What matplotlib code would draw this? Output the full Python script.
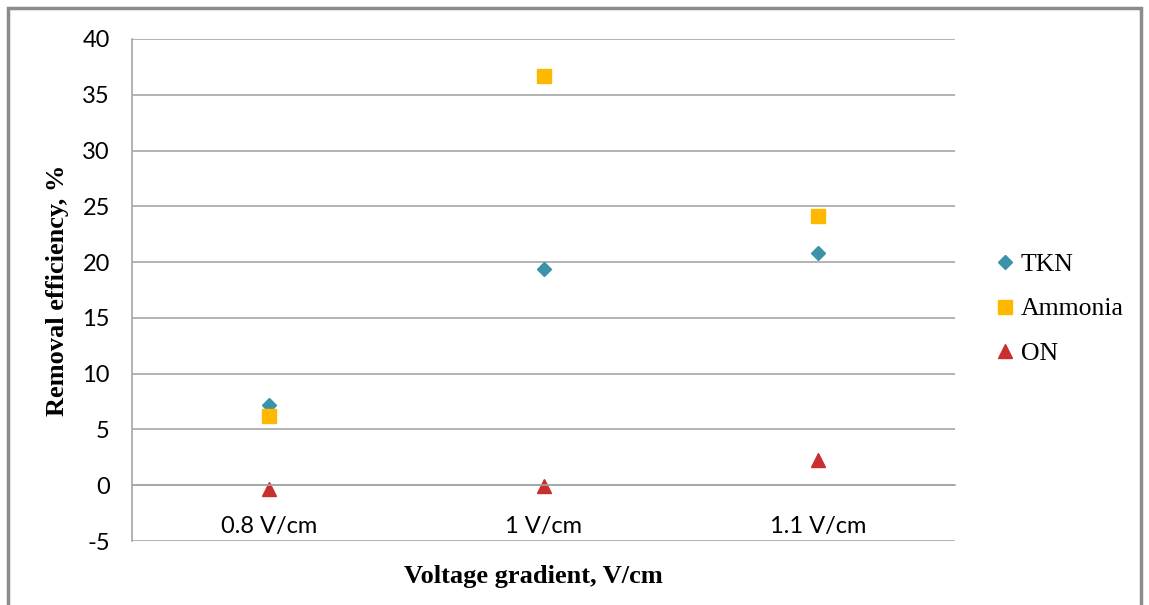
import matplotlib.pyplot as plt
from matplotlib.patches import Rectangle

plt.rcParams["axes.unicode_minus"] = False

gradients = ["0.8 V/cm", "1 V/cm", "1.1 V/cm"]
tkn = [7.2, 19.4, 20.8]
ammonia = [6.2, 36.7, 24.1]
organic_n = [-0.35, -0.1, 2.3]

fig = plt.figure(figsize=(11.49, 6.05), dpi=100)
ax = fig.add_axes([132 / 1149, 1 - 541 / 605, (955 - 132) / 1149, (541 - 39) / 605])

# outer chart border
fig.patches.append(Rectangle((8 / 1149, -0.05), (1141 - 8) / 1149, 1.05 - 8 / 605,
                             transform=fig.transFigure, fill=False,
                             edgecolor="#8c8c8c", linewidth=2.5))

x = list(range(len(gradients)))
ax.plot(x, tkn, linestyle="none", marker="D", markersize=7, color="#3a93aa", label="TKN")
ax.plot(x, ammonia, linestyle="none", marker="s", markersize=10.5, color="#ffb800", label="Ammonia")
ax.plot(x, organic_n, linestyle="none", marker="^", markersize=10, color="#c8302f", label="ON")

ax.set_xlim(-0.5, 2.5)
ax.set_ylim(-5, 40)
ax.set_yticks(range(-5, 41, 5))
ax.set_xticks(x)
ax.set_xticklabels(gradients)
ax.yaxis.grid(True, color="#a6a6a6", linewidth=1.2)
ax.set_axisbelow(True)

for side in ["top", "right"]:
    ax.spines[side].set_visible(False)
ax.spines["left"].set_color("#a6a6a6")
ax.spines["left"].set_linewidth(1.2)
ax.spines["bottom"].set_position(("data", 0))
ax.spines["bottom"].set_color("#a6a6a6")
ax.spines["bottom"].set_linewidth(1.2)
ax.tick_params(axis="both", length=0, labelsize=17)
ax.tick_params(axis="x", pad=22)
ax.tick_params(axis="y", pad=16)
for lbl in ax.get_xticklabels() + ax.get_yticklabels():
    lbl.set_fontfamily("Lato")

ax.set_ylabel("Removal efficiency, %", fontfamily="Liberation Serif",
              fontweight="bold", fontsize=19)
ax.yaxis.set_label_coords(-0.077, 0.5)
fig.text(533 / 1149, 1 - 576 / 605, "Voltage gradient, V/cm", ha="center", va="center",
         fontfamily="Liberation Serif", fontweight="bold", fontsize=19)

fig.legend(loc="center left", bbox_to_anchor=(972 / 1149, 1 - 309 / 605),
           frameon=False, handlelength=0.8, handletextpad=0.2, labelspacing=0.85,
           prop={"family": "Liberation Serif", "size": 18.5})

fig.savefig("out.png", dpi=100)
